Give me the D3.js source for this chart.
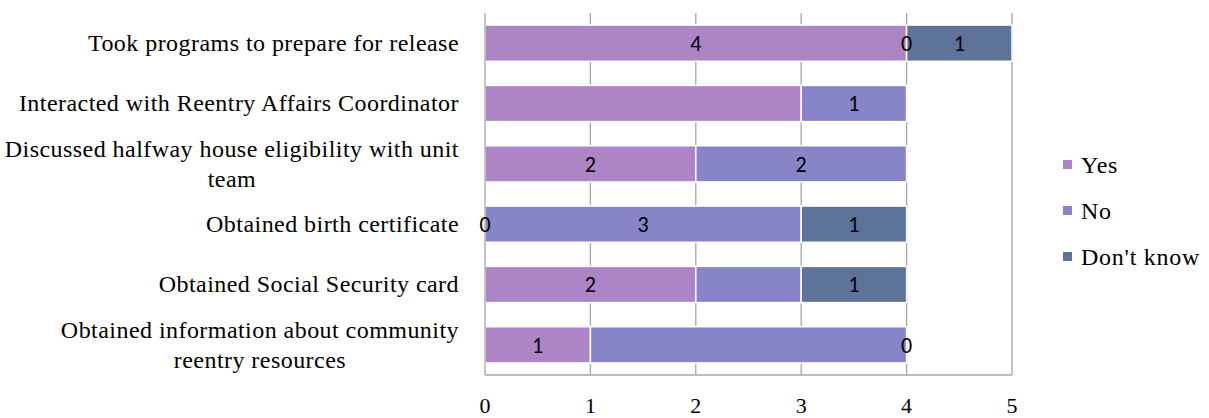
<!DOCTYPE html>
<html><head><meta charset="utf-8">
<script src="https://cdn.jsdelivr.net/npm/d3@7"></script>
<style>body{margin:0;background:#fff}</style>
</head><body>
<svg id="c" width="1209" height="418"></svg>
<script>
const categories = [
  "Took programs to prepare for release",
  "Interacted with Reentry Affairs Coordinator",
  "Discussed halfway house eligibility with unit team",
  "Obtained birth certificate",
  "Obtained Social Security card",
  "Obtained information about community reentry resources"
];
const seriesNames = ["Yes", "No", "Don't know"];
const yesValues = [4, 3, 2, 0, 2, 1];
const noValues = [0, 1, 2, 3, 1, 3];
const dontKnowValues = [1, 0, 0, 1, 1, 0];
// which values carry a visible data label in the original
const yesShown = [true, false, true, true, true, true];
const noShown = [true, true, true, true, false, false];
const dontKnowShown = [true, false, false, true, true, true];
const xTicks = [0, 1, 2, 3, 4, 5];
const colors = ["#AD84C6", "#8784C7", "#5E7399"];

const svg = d3.select("#c");
const x = d3.scaleLinear().domain([0, 5]).range([485, 1012]);
const y = d3.scaleBand().domain(categories).range([13, 375]).paddingInner(0.4).paddingOuter(0.2);

const values = [yesValues, noValues, dontKnowValues];
const shown = [yesShown, noShown, dontKnowShown];

const serif = "'Liberation Serif', serif";
const serifSize = 24;
const ls = 0.45;

// gridlines
svg.append("g").selectAll("line").data(xTicks.filter(d => d > 0)).join("line")
  .attr("x1", d => x(d)).attr("x2", d => x(d))
  .attr("y1", 13).attr("y2", 375)
  .attr("stroke", "#A6A6A6").attr("stroke-width", 1.3);

// bars
const rows = categories.map((c, i) => {
  let acc = 0;
  return values.map((v, s) => {
    const seg = {cat: c, s, x0: acc, x1: acc + v[i], v: v[i], show: shown[s][i]};
    acc += v[i];
    return seg;
  });
});
const segs = rows.flat();
svg.append("g").selectAll("rect").data(segs.filter(d => d.v > 0)).join("rect")
  .attr("x", d => x(d.x0)).attr("width", d => x(d.x1) - x(d.x0))
  .attr("y", d => y(d.cat)).attr("height", y.bandwidth())
  .attr("fill", d => colors[d.s])
  .attr("stroke", "#fff").attr("stroke-width", 1.5);

// axes lines
svg.append("line").attr("x1", x(0)).attr("x2", x(0)).attr("y1", 13).attr("y2", 375)
  .attr("stroke", "#A6A6A6").attr("stroke-width", 1.3);
svg.append("line").attr("x1", x(0)).attr("x2", x(5)).attr("y1", 375).attr("y2", 375)
  .attr("stroke", "#A6A6A6").attr("stroke-width", 1.3);

// data labels
svg.append("g").selectAll("text").data(segs.filter(d => d.show)).join("text")
  .attr("x", d => (x(d.x0) + x(d.x1)) / 2)
  .attr("y", d => y(d.cat) + y.bandwidth() / 2)
  .attr("dy", "0.36em")
  .attr("text-anchor", "middle")
  .attr("font-family", "Carlito, Lato, 'Open Sans', sans-serif")
  .attr("font-size", 22)
  .attr("fill", "#000")
  .text(d => d.v);

// x tick labels
svg.append("g").selectAll("text").data(xTicks).join("text")
  .attr("x", d => x(d)).attr("y", 413)
  .attr("text-anchor", "middle")
  .attr("font-family", serif)
  .attr("font-size", 22)
  .text(d => d);

// category labels with wrapping
const wrapW = 458;
const catG = svg.append("g");
const ctx = document.createElement("canvas").getContext("2d");
ctx.font = serifSize + "px 'Liberation Serif'";
const measure = t => ctx.measureText(t).width + t.length * ls;
categories.forEach(c => {
  const words = c.split(" ");
  const lines = [];
  let cur = "";
  words.forEach(w => {
    const t = cur ? cur + " " + w : w;
    if (measure(t) > wrapW && cur) { lines.push(cur); cur = w; }
    else cur = t;
  });
  lines.push(cur);
  const widths = lines.map(measure);
  const maxW = Math.max(...widths);
  const right = 459;
  const cx = right - maxW / 2;
  const lh = 30;
  const cy = y(c) + y.bandwidth() / 2;
  lines.forEach((l, k) => {
    catG.append("text")
      .attr("x", lines.length > 1 ? cx : right)
      .attr("text-anchor", lines.length > 1 ? "middle" : "end")
      .attr("y", cy + (k - (lines.length - 1) / 2) * lh)
      .attr("dy", "0.33em")
      .attr("font-family", serif)
      .attr("font-size", serifSize)
      .attr("letter-spacing", ls)
      .text(l);
  });
});

// legend
const leg = svg.append("g");
seriesNames.forEach((n, i) => {
  const ly = 165 + i * 46;
  leg.append("rect").attr("x", 1063).attr("y", ly - 5).attr("width", 9).attr("height", 9).attr("fill", colors[i]);
  leg.append("text").attr("x", 1081).attr("y", ly).attr("dy", "0.33em")
    .attr("font-family", serif).attr("font-size", serifSize).attr("letter-spacing", 0.75).text(n);
});
</script>
</body></html>
